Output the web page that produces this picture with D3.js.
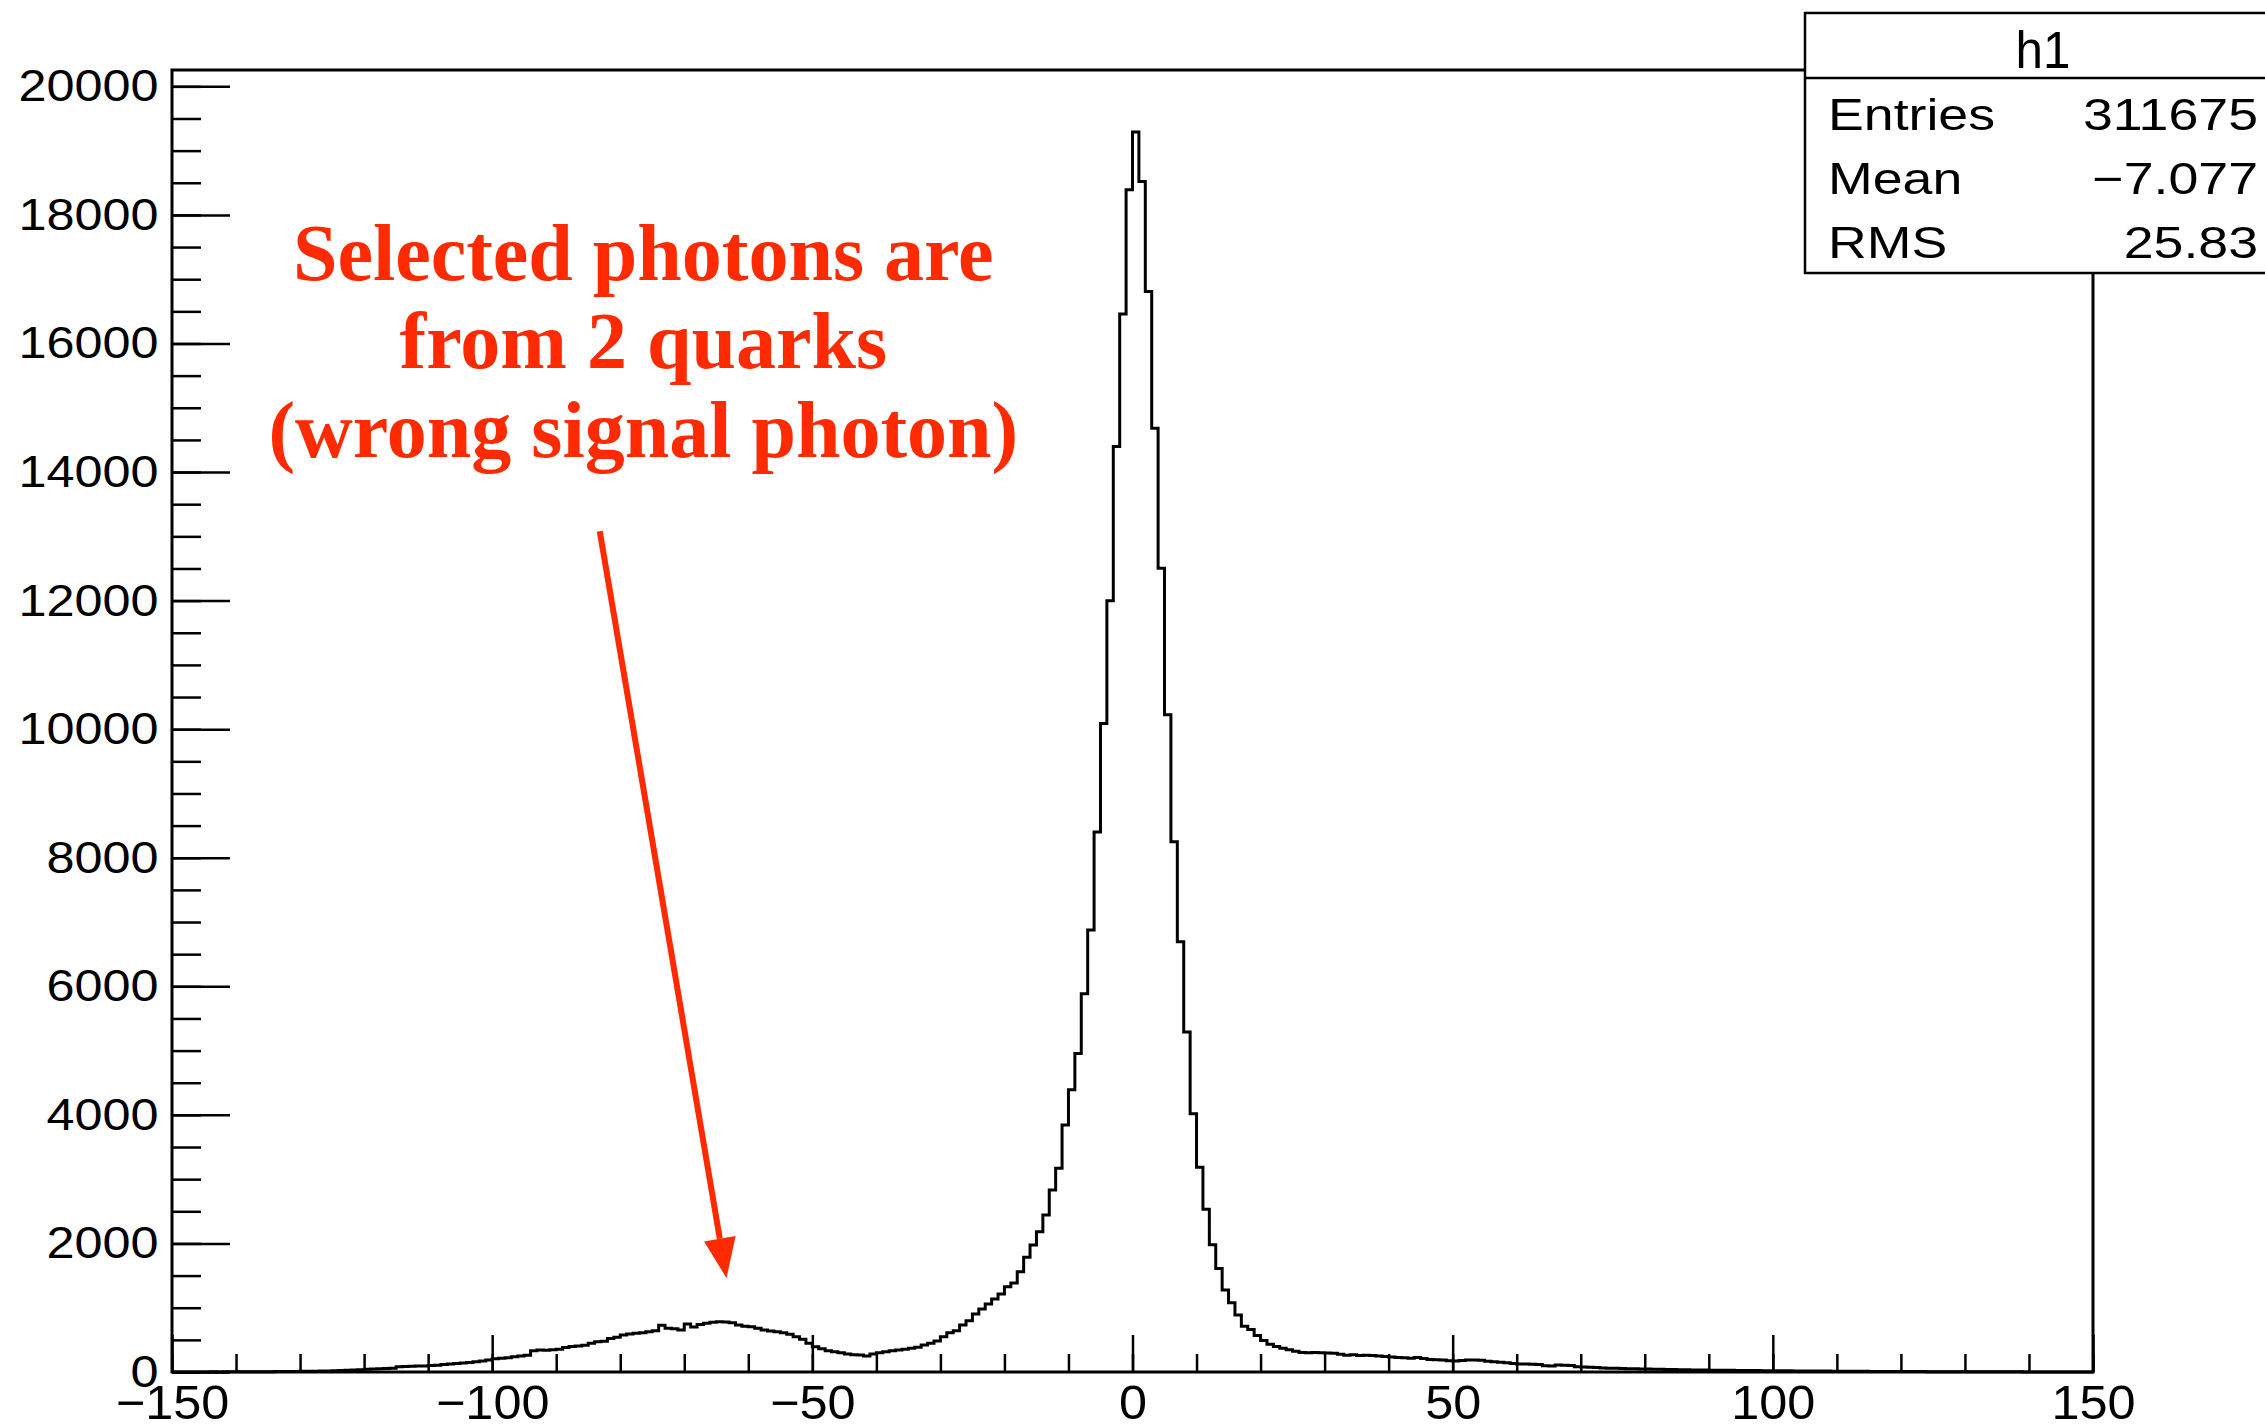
<!DOCTYPE html>
<html>
<head>
<meta charset="utf-8">
<script src="https://cdn.jsdelivr.net/npm/d3@7"></script>
<style>
  body { margin: 0; background: #fff; }
  svg { display: block; }
</style>
</head>
<body>
<svg id="chart"></svg>
<script>
// histogram: 300 bins of width 1 from -150 to 150
const binLow = -150;
const binWidth = 1;

// bins -150 .. -31
const countsLow = [
  0, 0, 1, 0, 1, 1, 2, 1, 2, 3,
  2, 3, 4, 3, 5, 4, 6, 7, 8, 9,
  10, 11, 13, 14, 16, 20, 24, 28, 31, 35,
  42, 46, 51, 55, 60, 80, 84, 88, 92, 95,
  100, 104, 118, 126, 131, 140, 147, 160, 170, 185,
  205, 213, 222, 238, 250, 262, 330, 342, 338, 348,
  355, 380, 398, 405, 418, 446, 470, 480, 520, 540,
  576, 590, 602, 610, 628, 640, 727, 680, 672, 654,
  747, 700, 740, 760, 775, 780, 778, 765, 730, 712,
  705, 680, 654, 638, 628, 612, 586, 550, 508, 446,
  394, 363, 332, 316, 301, 280, 270, 264, 249, 280,
  301, 316, 332, 342, 353, 368, 384, 420, 446, 482
];
// bins -30 .. 29
const countsCore = [
  550, 612, 643, 731, 798, 902, 980, 1058, 1136, 1214,
  1328, 1385, 1561, 1784, 1976, 2183, 2443, 2832, 3168, 3843,
  4391, 4954, 5883, 6877, 8402, 10090, 11996, 14397, 16457, 18392,
  19290, 18520, 16809, 14683, 12505, 10226, 8250, 6694, 5290, 4017,
  3185, 2533, 1978, 1612, 1276, 1079, 887, 712, 660, 568,
  490, 430, 395, 370, 345, 322, 305, 300, 302, 298
];
// bins 30 .. 149
const countsHigh = [
  295, 290, 275, 262, 270, 255, 262, 258, 250, 240,
  232, 225, 220, 215, 225, 210, 195, 190, 185, 175,
  172, 180, 186, 188, 182, 168, 158, 150, 145, 132,
  126, 124, 122, 118, 96, 92, 108, 106, 100, 80,
  76, 72, 70, 64, 60, 58, 55, 52, 50, 48,
  45, 44, 42, 40, 37, 36, 34, 33, 32, 30,
  29, 28, 27, 26, 25, 24, 23, 22, 21, 20,
  19, 18, 18, 17, 16, 16, 15, 14, 14, 13,
  12, 12, 11, 10, 10, 9, 9, 8, 8, 7,
  7, 6, 6, 6, 5, 5, 5, 4, 4, 4,
  3, 3, 3, 3, 2, 2, 2, 2, 2, 1,
  1, 1, 1, 1, 1, 1, 0, 1, 0, 0
];

const xMajorTicks = [-150, -100, -50, 0, 50, 100, 150];
const yMajorTicks = [0, 2000, 4000, 6000, 8000, 10000, 12000, 14000, 16000, 18000, 20000];

const statsTitle = "h1";
const statsNames = ["Entries", "Mean", "RMS"];
const statsValues = ["311675", "\u22127.077", "25.83"];

const noteLines = ["Selected photons are", "from 2 quarks", "(wrong signal photon)"];
const noteColor = "#ff2a00";

// ---- layout
const W = 2265, H = 1428;
const frame = { left: 172, right: 2093, top: 70, bottom: 1372 };

const counts = countsLow.concat(countsCore, countsHigh);
const bins = counts.map((c, i) => ({ x: binLow + i * binWidth, y: c }));
const xMax = binLow + counts.length * binWidth;
const yMax = d3.max(counts) * 1.05;

const svg = d3.select("#chart").attr("width", W).attr("height", H);

const x = d3.scaleLinear().domain([binLow, xMax]).range([frame.left, frame.right]);
const y = d3.scaleLinear().domain([0, yMax]).range([frame.bottom, frame.top]);

const font = "'Liberation Sans', Arial, Helvetica, sans-serif";

// minor ticks
svg.append("g")
  .attr("transform", `translate(0,${frame.bottom})`)
  .call(d3.axisBottom(x).tickValues(d3.range(binLow, xMax + 1, 10)).tickSize(-18).tickFormat(""))
  .call(g => g.select(".domain").remove())
  .call(g => g.selectAll("line").attr("stroke-width", 2.5));

svg.append("g")
  .attr("transform", `translate(${frame.left},0)`)
  .call(d3.axisLeft(y).tickValues(d3.range(0, yMax, 500)).tickSize(-29).tickFormat(""))
  .call(g => g.select(".domain").remove())
  .call(g => g.selectAll("line").attr("stroke-width", 2.5));

// major ticks + labels
const xAxis = svg.append("g")
  .attr("transform", `translate(0,${frame.bottom})`)
  .call(d3.axisBottom(x).tickValues(xMajorTicks).tickSize(-37).tickPadding(13))
  .call(g => g.select(".domain").remove());
xAxis.selectAll("line").attr("stroke-width", 2.5);
xAxis.selectAll("text")
  .attr("font-family", font).attr("font-size", 48).attr("fill", "#000")
  .attr("transform", "scale(1.05,1)");

const yAxis = svg.append("g")
  .attr("transform", `translate(${frame.left},0)`)
  .call(d3.axisLeft(y).tickValues(yMajorTicks).tickSize(-58).tickPadding(12).tickFormat(d3.format("d")))
  .call(g => g.select(".domain").remove());
yAxis.selectAll("line").attr("stroke-width", 2.5);
yAxis.selectAll("text")
  .attr("font-family", font).attr("font-size", 45).attr("fill", "#000")
  .attr("transform", "scale(1.12,1)");

// histogram outline
const line = d3.line()
  .x(d => x(d.x))
  .y(d => y(d.y))
  .curve(d3.curveStepAfter);
svg.append("path")
  .datum(bins.concat([{ x: xMax, y: counts[counts.length - 1] }]))
  .attr("d", line)
  .attr("fill", "none")
  .attr("stroke", "#000")
  .attr("stroke-width", 3);

// frame
svg.append("rect")
  .attr("x", frame.left).attr("y", frame.top)
  .attr("width", frame.right - frame.left).attr("height", frame.bottom - frame.top)
  .attr("fill", "none").attr("stroke", "#000").attr("stroke-width", 3);

// stats box
const sb = { x: 1805, y: 13, w: 520, h: 260, sep: 78 };
const stats = svg.append("g");
stats.append("rect")
  .attr("x", sb.x).attr("y", sb.y).attr("width", sb.w).attr("height", sb.h)
  .attr("fill", "#fff").attr("stroke", "#000").attr("stroke-width", 2.5);
stats.append("line")
  .attr("x1", sb.x).attr("x2", sb.x + sb.w)
  .attr("y1", sb.sep).attr("y2", sb.sep)
  .attr("stroke", "#000").attr("stroke-width", 2.5);
stats.append("text")
  .attr("transform", "translate(2043,68) scale(0.95,1)")
  .attr("text-anchor", "middle")
  .attr("font-family", font).attr("font-size", 52)
  .text(statsTitle);
const rowBase = [130, 194, 258];
statsNames.forEach((name, i) => {
  stats.append("text")
    .attr("transform", `translate(1828,${rowBase[i]}) scale(1.22,1)`)
    .attr("font-family", font).attr("font-size", 44)
    .text(name);
  stats.append("text")
    .attr("transform", `translate(2258,${rowBase[i]}) scale(1.22,1)`)
    .attr("text-anchor", "end")
    .attr("font-family", font).attr("font-size", 44)
    .text(statsValues[i]);
});

// annotation (in data coordinates)
const noteX = -76.4;
const noteBase = [16990, 15620, 14240];
svg.append("g").selectAll("text")
  .data(noteLines)
  .enter().append("text")
  .attr("x", x(noteX))
  .attr("y", (d, i) => y(noteBase[i]))
  .attr("text-anchor", "middle")
  .attr("font-family", "'Liberation Serif', 'Times New Roman', serif")
  .attr("font-weight", "bold")
  .attr("font-size", 80)
  .attr("fill", noteColor)
  .text(d => d);

const arrowFrom = { x: -83.2, y: 13080 };
const arrowTo = { x: -63.4, y: 1460 };
const x0 = x(arrowFrom.x), y0 = y(arrowFrom.y);
const x1 = x(arrowTo.x), y1 = y(arrowTo.y);
const ang = Math.atan2(y1 - y0, x1 - x0);
const headLen = 40, headHalf = 16;
const bx = x1 - headLen * Math.cos(ang), by = y1 - headLen * Math.sin(ang);
svg.append("line")
  .attr("x1", x0).attr("y1", y0).attr("x2", bx).attr("y2", by)
  .attr("stroke", noteColor).attr("stroke-width", 6);
svg.append("polygon")
  .attr("points", [
    [x1, y1],
    [bx + headHalf * Math.sin(ang), by - headHalf * Math.cos(ang)],
    [bx - headHalf * Math.sin(ang), by + headHalf * Math.cos(ang)]
  ].map(p => p.join(",")).join(" "))
  .attr("fill", noteColor);
</script>
</body>
</html>
